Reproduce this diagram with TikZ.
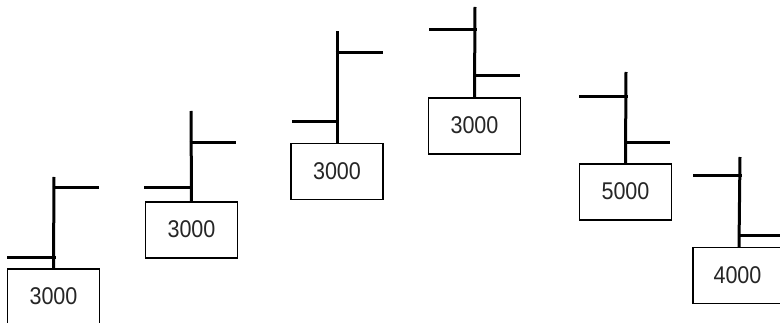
\documentclass[tikz,border=0pt]{standalone}
\usepackage{fontspec}
\usepackage{graphicx}
\setmainfont{Liberation Sans}
\newcommand{\valtext}[1]{\raisebox{1pt}{\scalebox{0.98}[1.1]{#1}}}
\tikzset{
  valbox/.style={draw=black, line width=1.2pt, fill=white, minimum width=92pt, minimum height=56pt,
    inner sep=0pt, font=\fontsize{22}{26}\selectfont, text=black!85},
  post/.style={line width=3pt, line cap=butt},
  arm/.style={line width=3pt, line cap=butt}
}
\begin{document}
\begin{tikzpicture}[x=1pt, y=-1pt]
  \useasboundingbox (0,0) rectangle (780,323);
  \clip (0,0) rectangle (780,323);
  \fill[white] (0,0) rectangle (780,323);

  % value boxes
  \node[valbox] (b1) at (53.5,297) {\valtext{3000}};
  \node[valbox] (b2) at (191.5,230) {\valtext{3000}};
  \node[valbox] (b3) at (337,171.5) {\valtext{3000}};
  \node[valbox] (b4) at (474.5,126) {\valtext{3000}};
  \node[valbox] (b5) at (625.5,192) {\valtext{5000}};
  \node[valbox] (b6) at (739,275.5) {\hspace*{-3pt}\valtext{4000}};

  % post tops
  \coordinate (t1) at (54,177);
  \coordinate (t2) at (191,111);
  \coordinate (t3) at (337,31);
  \coordinate (t4) at (475,7);
  \coordinate (t5) at (626,72);
  \coordinate (t6) at (740,157);

  % arm roots on the posts and arm tips
  \coordinate (r1a) at (54,188);  \coordinate (r1b) at (99,188);
  \coordinate (l1a) at (54,258);  \coordinate (l1b) at (7,258);
  \coordinate (r2a) at (191,143); \coordinate (r2b) at (236,143);
  \coordinate (l2a) at (191,188); \coordinate (l2b) at (144,188);
  \coordinate (r3a) at (337,53);  \coordinate (r3b) at (383,53);
  \coordinate (l3a) at (337,122); \coordinate (l3b) at (292,122);
  \coordinate (l4a) at (475,30);  \coordinate (l4b) at (429,30);
  \coordinate (r4a) at (475,76);  \coordinate (r4b) at (520,76);
  \coordinate (l5a) at (626,97);  \coordinate (l5b) at (579,97);
  \coordinate (r5a) at (626,143); \coordinate (r5b) at (670,143);
  \coordinate (l6a) at (740,176); \coordinate (l6b) at (693,176);
  \coordinate (r6a) at (740,236); \coordinate (r6b) at (785,236);

  % posts
  \foreach \i in {1,...,6} {
    \draw[post] (b\i.north) -- (t\i);
  }

  % arms
  \foreach \i in {1,...,6} {
    \draw[arm] ([xshift=-1.5pt]r\i a) -- (r\i b);
    \draw[arm] ([xshift=1.5pt]l\i a) -- (l\i b);
  }
\end{tikzpicture}
\end{document}
